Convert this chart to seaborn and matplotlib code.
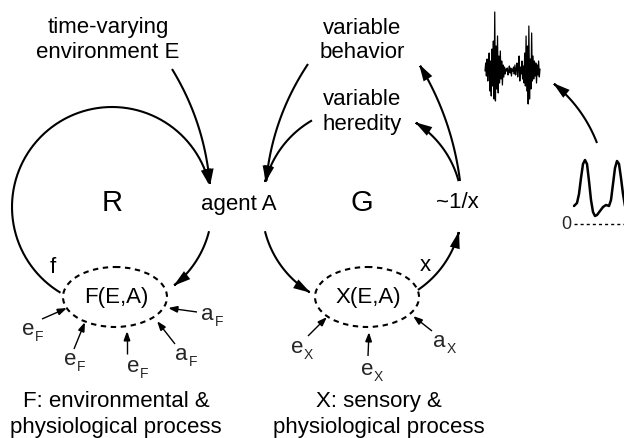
import numpy as np
import matplotlib.pyplot as plt
import seaborn as sns
from matplotlib.patches import Ellipse, FancyArrowPatch, ArrowStyle
from matplotlib.path import Path

sns.set_theme(style="white")
plt.rcParams['font.family'] = ['Liberation Sans', 'DejaVu Sans']

# ------------------------ sketch data ------------------------
# noisy behaviour trace (offsets from its centre line, up = positive)
noise_vals = [0, 8, -5, 12, -10, 4, 18, -20, 10, -25, 22, -15, 30, -28, 59, -30,
              25, -18, 35, -22, 15, -12, 20, -8, 10, -14, 6, -6, 4,
              -3, 2, 0, 3, -4, 1, 5, -2, 3, -5, 2, 0, 4, -3, 6, -4, 2, 8, -6,
              3, 15, -10, 4, -3, 10, -8, 5,
              -12, 18, -15, 35, -20, 25, -33, 45, -28, 12, -18, 38, -10, 15,
              -8, 10, -5, 8, -12, 6, -4, 10, -6, 2]
# two-peak distribution (height above the dashed zero line)
peak_x = [574, 577, 579, 581, 583, 585, 587, 589, 591, 593, 595, 597, 600, 603,
          606, 609, 611, 613, 615, 617, 619, 621, 623, 625, 627]
peak_h = [18, 21, 30, 46, 60, 64, 60, 43, 24, 12, 8, 9, 13, 17, 19, 18, 24, 40,
          56, 63, 60, 46, 30, 18, 10]

# small input arrows: (letter, subscript, split x, baseline y, start, tip)
inputs = [
    ("e", "F", 34, 335, (42, 320), (67, 309)),
    ("e", "F", 76, 365, (74, 350), (85, 323)),
    ("e", "F", 139, 372, (127, 355), (127, 332)),
    ("a", "F", 214, 320, (197, 313), (168, 309)),
    ("a", "F", 188, 360, (175, 345), (157, 322)),
    ("e", "X", 303, 353, (308, 337), (327, 318)),
    ("e", "X", 373, 375, (368, 357), (369, 333)),
    ("a", "X", 446, 347, (432, 332), (413, 317)),
]

W, H = 624, 439
FS = 16


def arc_pts(cx, cy, r, a0, a1, n=80):
    t = np.radians(np.linspace(a0, a1, n))
    return np.column_stack([cx + r * np.cos(t), cy - r * np.sin(t)])


def bez_pts(p0, c, p1, n=60):
    t = np.linspace(0, 1, n)[:, None]
    p0, c, p1 = map(np.asarray, (p0, c, p1))
    return (1 - t) ** 2 * p0 + 2 * (1 - t) * t * c + t ** 2 * p1


def arrow(ax, pts, lw=1.5, ms=12, hl=0.75, hw=0.22):
    style = ArrowStyle('-|>', head_length=hl, head_width=hw)
    a = FancyArrowPatch(path=Path(np.asarray(pts)), arrowstyle=style,
                        mutation_scale=ms, lw=lw, color='black',
                        capstyle='butt', joinstyle='miter')
    ax.add_patch(a)


def label(ax, x, y, s, size=FS, **kw):
    ax.text(x, y, s, fontsize=size, ha='center', va='center', color='black', **kw)


fig = plt.figure(figsize=(W / 100, H / 100), dpi=100)
ax = fig.add_axes([0, 0, 1, 1])

# ------------------------ curves drawn with seaborn ------------------------
nx = np.linspace(485, 540, len(noise_vals))
sns.lineplot(x=nx, y=72 - np.array(noise_vals), ax=ax, color='black',
             lw=0.9, estimator=None, sort=False)
sns.lineplot(x=peak_x, y=225 - np.array(peak_h), ax=ax, color='black',
             lw=1.8, estimator=None, sort=False)
ax.plot([574, 626], [225, 225], color='black', lw=1, ls=(0, (2.2, 2.2)))
ax.text(566, 225, "0", fontsize=13, ha='center', va='center')

ax.set_xlim(0, W)
ax.set_ylim(H, 0)
ax.axis('off')

# ------------------------ processes ------------------------
for cx in (115, 367):
    ax.add_patch(Ellipse((cx, 298), 104, 60, fill=False, lw=1.5,
                         ls=(0, (2.6, 2.2)), color='black'))
label(ax, 116, 298, "F(E,A)")
label(ax, 368, 298, "X(E,A)")

# ------------------------ loop R ------------------------
arrow(ax, arc_pts(112, 208, 100, 239, 12))
arrow(ax, arc_pts(112, 208, 100, -14, -52))
arrow(ax, bez_pts((172, 70), (205, 124), (210, 187)))

# ------------------------ loop G ------------------------
arrow(ax, arc_pts(362, 208, 100, 194, 239))
arrow(ax, arc_pts(362, 208, 100, -56, -14))
arrow(ax, arc_pts(362, 208, 100, 15, 58))
arrow(ax, arc_pts(362, 208, 100, 120, 166))
arrow(ax, bez_pts((460, 182), (452, 119), (419, 65)))
arrow(ax, bez_pts((308, 65), (272, 119), (266, 184)))

# peaks -> noise
arrow(ax, bez_pts((597, 144), (583, 108), (553, 84)))

# ------------------------ inputs ------------------------
for main, sub, sx, by, p0, p1 in inputs:
    arrow(ax, [p0, p1], lw=1.0, ms=8, hl=0.7, hw=0.25)
    ax.text(sx, by, main, fontsize=FS, ha='right', va='baseline')
    ax.text(sx + 0.5, by + 6, sub, fontsize=10, ha='left', va='baseline')

# ------------------------ text ------------------------
label(ax, 108, 28, "time-varying")
label(ax, 108, 53, "environment E")
label(ax, 362, 28, "variable")
label(ax, 362, 53, "behavior")
label(ax, 362, 100, "variable")
label(ax, 362, 125, "heredity")
label(ax, 112, 203, "R", size=21)
label(ax, 362, 203, "G", size=21)
label(ax, 239, 205, "agent A")
label(ax, 457, 203, "~1/x")
label(ax, 53, 268, "f")
label(ax, 425, 266, "x")
label(ax, 116, 402, "F: environmental &")
label(ax, 116, 428, "physiological process")
label(ax, 379, 402, "X: sensory &")
label(ax, 379, 428, "physiological process")

fig.savefig("out.png", dpi=100)
